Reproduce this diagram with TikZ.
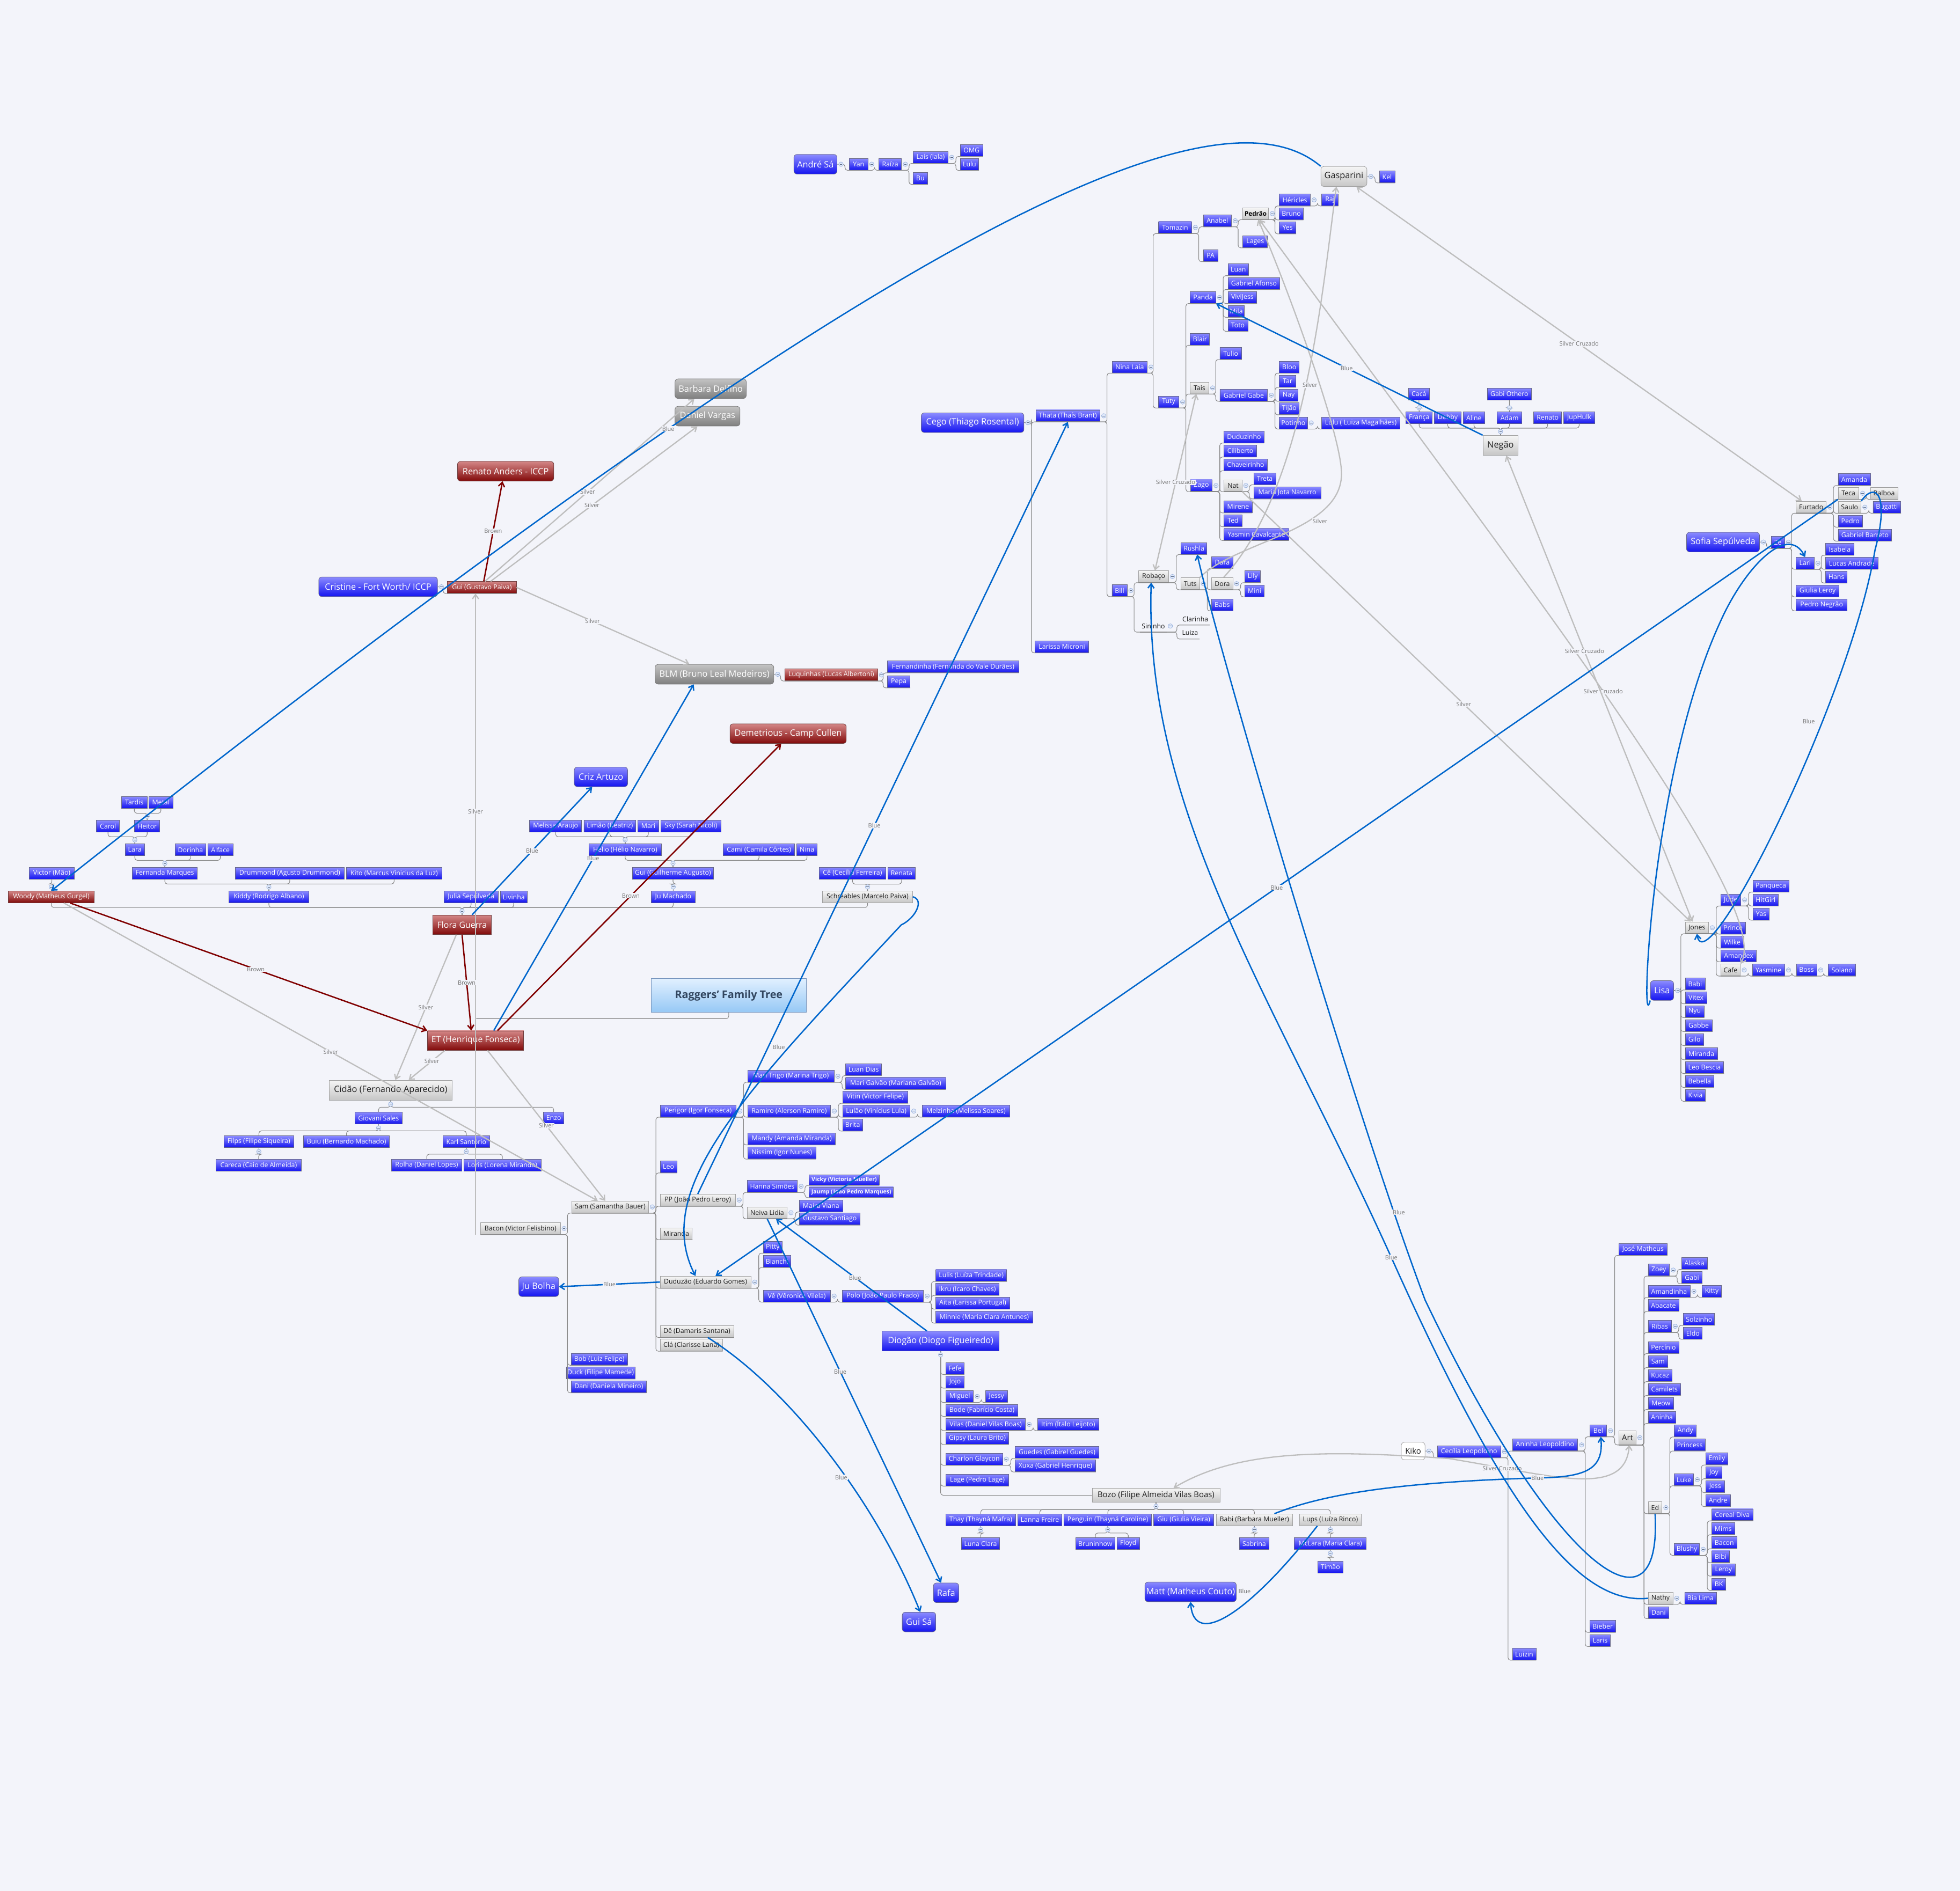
\documentclass[tikz,border=0pt]{standalone}
\usepackage{fontspec}
\setmainfont{Open Sans}
\usetikzlibrary{arrows.meta,calc}
\definecolor{bgc}{RGB}{243,244,250}
\definecolor{bTop}{RGB}{140,140,255}
\definecolor{bBot}{RGB}{20,20,240}
\definecolor{bBord}{RGB}{100,100,135}
\definecolor{gTop}{RGB}{246,246,246}
\definecolor{gBot}{RGB}{198,198,198}
\definecolor{gBord}{RGB}{160,160,160}
\definecolor{rTop}{RGB}{212,135,135}
\definecolor{rBot}{RGB}{130,10,10}
\definecolor{rBord}{RGB}{110,60,60}
\definecolor{dTop}{RGB}{195,195,195}
\definecolor{dBot}{RGB}{128,128,128}
\definecolor{dBord}{RGB}{120,120,120}
\definecolor{tTop}{RGB}{225,240,255}
\definecolor{tBot}{RGB}{150,200,245}
\definecolor{tBord}{RGB}{120,150,190}
\definecolor{tTxt}{RGB}{50,70,95}
\definecolor{txt}{RGB}{30,30,30}
\definecolor{treec}{RGB}{135,135,135}
\definecolor{blueL}{RGB}{0,102,204}
\definecolor{silverL}{RGB}{190,190,190}
\definecolor{brownL}{RGB}{128,0,0}
\definecolor{labc}{RGB}{115,115,115}
\definecolor{btnF}{RGB}{222,232,250}
\definecolor{btnD}{RGB}{150,175,220}
\tikzset{
  base/.style={rectangle, inner xsep=1pt, inner ysep=0pt, minimum height=9.4pt, font=\fontsize{5.3}{6}\selectfont, line width=0.35pt},
  bn/.style={base, top color=bTop, bottom color=bBot, draw=bBord, text=white},
  bnb/.style={bn, minimum height=8.4pt, font=\fontsize{4.5}{5}\selectfont\bfseries},
  gn/.style={base, top color=gTop, bottom color=gBot, draw=gBord, text=txt},
  gnb/.style={gn, font=\fontsize{5}{6}\selectfont\bfseries, text=black},
  rn/.style={base, top color=rTop, bottom color=rBot, draw=rBord, text=white},
  pn/.style={base, text=txt},
  bigfont/.style={font=\fontsize{7}{8}\selectfont},
  rootb/.style={bn, bigfont, rounded corners=2.5pt, minimum height=15.7pt},
  rootr/.style={rn, bigfont, rounded corners=2.5pt, minimum height=15.7pt},
  rootd/.style={base, bigfont, rounded corners=2.5pt, minimum height=15.7pt, top color=dTop, bottom color=dBot, draw=dBord, text=white},
  rootg/.style={gn, bigfont, rounded corners=2.5pt, minimum height=16pt},
  bigg/.style={gn, bigfont, minimum height=16pt},
  bigb/.style={bn, bigfont, minimum height=15.7pt},
  medr/.style={rn, font=\fontsize{6.8}{7.5}\selectfont, minimum height=15.5pt},
  medg/.style={gn, font=\fontsize{6.4}{7}\selectfont, minimum height=11.3pt},
  kk/.style={base, font=\fontsize{6.4}{7}\selectfont, rounded corners=2.5pt, minimum height=14pt, fill=white, draw=gBord, text=txt},
  ttl/.style={base, font=\fontsize{8.5}{9}\selectfont\bfseries, minimum height=27pt, top color=tTop, bottom color=tBot, draw=tBord, text=tTxt},
  tree/.style={draw=treec, line width=0.45pt, rounded corners=2pt},
  rel/.style={line width=1.1pt},
  bl/.style={rel, draw=blueL, -{Straight Barb[length=3.5pt,width=5pt]}},
  sv/.style={rel, line width=1pt, draw=silverL, -{Straight Barb[length=3.5pt,width=5pt]}},
  svd/.style={sv, {Straight Barb[length=3.5pt,width=5pt]}-{Straight Barb[length=3.5pt,width=5pt]}},
  brw/.style={rel, draw=brownL, -{Straight Barb[length=3.5pt,width=5pt]}},
  lab/.style={font=\fontsize{4.7}{5}\selectfont, text=labc, fill=bgc, inner sep=0.4pt},
  pics/btn/.style={code={\draw[fill=btnF,draw=btnD,line width=0.3pt] (0,0) circle[radius=1.8pt]; \draw[draw=btnD!60!black,line width=0.3pt] (-1pt,0) -- (1pt,0);}},
}
\newcommand\N[6]{\node[#1,minimum width={(#4-#3)*1pt}] (#2) at ({(#3+#4)/2},#5) {#6};}
\newcommand\T[3]{\coordinate (spn) at (#2,0);\foreach \kid in {#3}{\draw[tree] (#1.south west) -- (#1.south -| spn) |- (\kid.south east);}\pic at ([xshift=2.9pt]#1.east) {btn};}
\newcommand\TR[3]{\coordinate (spn) at (#2,0);\foreach \kid in {#3}{\draw[tree] (#1.east) -- (#1.east -| spn) |- (\kid.south east);}\pic at ([xshift=3pt]#1.east) {btn};}
\newcommand\U[3]{\coordinate (bar) at (0,#2);\foreach \kid in {#3}{\draw[tree] (\kid.south) -- (\kid.south |- bar) -| (#1.north);}\pic at ([yshift=3pt]#1.north) {btn};}
\newcommand\D[3]{\coordinate (bar) at (0,#2);\foreach \kid in {#3}{\draw[tree] (#1.south) -- (#1.south |- bar) -| (\kid.north);}\pic at ([yshift=-3pt]#1.south) {btn};}
\begin{document}
\begin{tikzpicture}[x=1pt,y=-1pt]
\useasboundingbox (0,0) rectangle (1568,1513);
\fill[bgc] (0,0) rectangle (1568,1513);
% ---------- André Sá
\N{rootb}{andre}{635.1}{669.6}{131.4}{André Sá}
\N{bn}{yan}{679.5}{694.3}{131.4}{Yan}
\N{bn}{raiza}{703.1}{721.2}{131.4}{Raíza}
\N{bn}{lais}{730.7}{758.3}{125.9}{Laís (lala)}
\N{bn}{omg}{768.2}{786.3}{120.3}{OMG}
\N{bn}{lulua}{768.2}{783}{131.5}{Lulu}
\N{bn}{bu}{730.7}{741.9}{142.7}{Bu}
% ---------- Gasparini
\N{rootg}{gasp}{1056.7}{1093.5}{141.2}{Gasparini}
\N{bn}{kel}{1103.4}{1115.9}{141.5}{Kel}
% ---------- Cego
\N{rootb}{cego}{737}{819.1}{338.2}{Cego (Thiago Rosental)}
\N{bn}{thata}{828.7}{879.9}{332.7}{Thata (Thaís Brant)}
\N{bn}{larissa}{828}{871}{517.5}{Larissa Microni}
\N{bn}{nina}{889.8}{917.7}{293.7}{Nina Laia}
\N{bn}{bill}{889.6}{901.6}{472.5}{Bill}
\N{bn}{tomazin}{926.9}{953.2}{182}{Tomazin}
\N{bn}{tuty}{926.9}{943}{321.6}{Tuty}
\N{bn}{anabel}{962.7}{985.1}{176.6}{Anabel}
\N{bn}{pa}{962.7}{974.2}{204.5}{PA}
\N{gnb}{pedrao}{994.3}{1014.7}{170.9}{Pedrão}
\N{bn}{lages}{994.3}{1014}{193.4}{Lages}
\N{bn}{hericles}{1023.5}{1048.2}{159.9}{Héricles}
\N{bn}{raj}{1057.4}{1070.5}{159.9}{Raj}
\N{bn}{bruno}{1023.5}{1042.6}{171.1}{Bruno}
\N{bn}{yes}{1023.5}{1036.7}{182.3}{Yes}
\N{bn}{panda}{952.2}{972.6}{238}{Panda}
\N{bn}{blair}{952.2}{967.7}{271.4}{Blair}
\N{gn}{tais}{952.2}{967}{310.4}{Tais}
\N{bn}{zago}{952.4}{969.7}{388.5}{Zago}
\N{bn}{luan}{982.4}{998.9}{215.7}{Luan}
\N{bn}{gabafonso}{982.4}{1023.9}{226.8}{Gabriel Afonso}
\N{bn}{vivijess}{982.4}{1005.4}{238}{ViviJess}
\N{bn}{mila}{982.4}{995.6}{249}{Mila}
\N{bn}{toto}{982.4}{998.2}{260.2}{Toto}
\N{bn}{tulio}{975.9}{993.3}{282.8}{Tulio}
\N{bn}{gabgabe}{975.9}{1014}{316.2}{Gabriel Gabe}
\N{bn}{bloo}{1023.5}{1039.3}{293.7}{Bloo}
\N{bn}{tar}{1023.5}{1036.7}{305.1}{Tar}
\N{bn}{nay}{1023.5}{1038.3}{316.2}{Nay}
\N{bn}{tijao}{1023.5}{1039.3}{327}{Tijão}
\N{bn}{potinho}{1023.5}{1045.9}{338.4}{Potinho}
\N{bn}{lulub}{1057.4}{1119.8}{338.4}{Lulu ( Luiza Magalhães)}
\N{bn}{duduzinho}{979.3}{1011.1}{349.6}{Duduzinho}
\N{bn}{ciliberto}{979.3}{1005.2}{360.8}{Ciliberto}
\N{bn}{chaveirinho}{979.3}{1013.8}{371.8}{Chaveirinho}
\N{gn}{nat}{979.3}{993.6}{388.5}{Nat}
\N{bn}{mirene}{979.3}{1001.7}{405.5}{Mirene}
\N{bn}{ted}{979.3}{993.6}{416.6}{Ted}
\N{bn}{yasmin}{979.3}{1031}{427.6}{Yasmin Cavalcante}
\N{bn}{treta}{1003}{1020.7}{383}{Treta}
\N{bn}{mjn}{1003}{1056.7}{394.3}{Maria Jota Navarro}
\N{gn}{robaco}{911}{934.9}{461.3}{Robaço}
\N{pn}{sininho}{912.2}{933.2}{500.9}{Sininho}
\N{bn}{rushla}{944.8}{965.5}{438.8}{Rushla}
\N{gn}{tuts}{944.8}{959.6}{467}{Tuts}
\N{bn}{dara}{969.4}{986.2}{450}{Dara}
\N{gn}{dora}{969.4}{986.2}{467}{Dora}
\N{bn}{babs}{969.4}{986.2}{483.9}{Babs}
\N{bn}{lily}{996}{1008.4}{461.3}{Lily}
\N{bn}{mini}{996}{1011.3}{472.7}{Mini}
\N{pn}{clarinha}{945.5}{967}{495.2}{Clarinha}
\N{pn}{luiza}{945.5}{958.6}{506.4}{Luiza}
% ---------- Negão
\N{bigg}{negao}{1186.3}{1214.5}{356.4}{Negão}
\N{bn}{franca}{1124.8}{1145.8}{334.2}{França}
\N{bn}{debby}{1147.5}{1168.8}{334.2}{Debby}
\N{bn}{aline}{1170.5}{1187.8}{334.2}{Aline}
\N{bn}{adam}{1197.8}{1217.4}{334.2}{Adam}
\N{bn}{renato}{1226.9}{1249.3}{334.2}{Renato}
\N{bn}{juphulk}{1251}{1275.7}{334.2}{JupHulk}
\N{bn}{caca}{1126.8}{1143.5}{315.2}{Cacá}
\N{bn}{gabiothero}{1189.8}{1225.1}{315.2}{Gabi Othero}
% ---------- Sofia
\N{rootb}{sofia}{1349.2}{1407.6}{433.7}{Sofia Sepúlveda}
\N{bn}{ze}{1416.9}{1427.6}{433.8}{Zé}
\N{gn}{furtado}{1436.9}{1460.9}{405.8}{Furtado}
\N{bn}{lari}{1436.9}{1451.2}{450.6}{Lari}
\N{bn}{giulia}{1436.9}{1471.2}{472.7}{Giulia Leroy}
\N{bn}{pedroneg}{1436.9}{1477.7}{483.9}{Pedro Negrão}
\N{bn}{amanda}{1470.5}{1496.3}{383.6}{Amanda}
\N{gn}{teca}{1470.5}{1487}{394.7}{Teca}
\N{gn}{saulo}{1470.5}{1488.8}{405.8}{Saulo}
\N{bn}{pedro}{1470.5}{1490.1}{416.9}{Pedro}
\N{bn}{gabbarreto}{1470.5}{1513.4}{428.1}{Gabriel Barreto}
\N{gn}{balboa}{1496.3}{1518.2}{394.7}{Balboa}
\N{bn}{bugatti}{1498.4}{1520.6}{405.8}{Bugatti}
\N{bn}{isabela}{1460.5}{1483}{439.4}{Isabela}
\N{bn}{lucas}{1460.5}{1502.3}{450.6}{Lucas Andrade}
\N{bn}{hans}{1460.5}{1477.7}{461.6}{Hans}
% ---------- Lisa
\N{rootb}{lisa}{1320.3}{1338.9}{792.5}{Lisa}
\N{gn}{jones}{1348.2}{1366.8}{742.3}{Jones}
\N{bn}{babia}{1348.2}{1364}{787.2}{Babi}
\N{bn}{vitex}{1348.2}{1365.4}{798.3}{Vitex}
\N{bn}{nyu}{1348.2}{1363.3}{809.3}{Nyu}
\N{bn}{gabbe}{1348.2}{1369.7}{820.5}{Gabbe}
\N{bn}{gilo}{1348.2}{1362.8}{831.7}{Gilo}
\N{bn}{mirandaa}{1348.2}{1374}{843}{Miranda}
\N{bn}{leoa}{1348.2}{1379}{854.1}{Leo Bescia}
\N{bn}{bebella}{1348.2}{1371.1}{865.2}{Bebella}
\N{bn}{kivia}{1348.2}{1364.4}{876.3}{Kivia}
\N{bn}{jude}{1376.6}{1392.6}{720}{Jude}
\N{bn}{prince}{1376.6}{1396.2}{742.5}{Prince}
\N{bn}{wilke}{1376.6}{1395}{753.7}{Wilke}
\N{bn}{amandex}{1376.6}{1405.2}{764.7}{Amandex}
\N{gn}{cafe}{1376.6}{1392.3}{776.1}{Cafe}
\N{bn}{panqueca}{1402.3}{1431}{708.9}{Panqueca}
\N{bn}{hitgirl}{1402.3}{1422.7}{720}{HitGirl}
\N{bn}{yas}{1402.3}{1415.5}{731.4}{Yas}
\N{bn}{yasmine}{1401.9}{1427.7}{776.1}{Yasmine}
\N{bn}{boss}{1437}{1453.4}{776.1}{Boss}
\N{bn}{solano}{1462.7}{1484.6}{776.1}{Solano}
% ---------- left family
\N{bn}{tardis}{97.2}{117.7}{642}{Tardis}
\N{bn}{metal}{119.1}{138.3}{642}{Metal}
\N{bn}{carol}{77.2}{95.6}{661}{Carol}
\N{bn}{heitor}{107.6}{127.9}{661}{Heitor}
\N{bn}{lara}{100.2}{115.5}{679.9}{Lara}
\N{bn}{dorinha}{140.2}{164.6}{679.9}{Dorinha}
\N{bn}{alface}{166.2}{186.5}{679.9}{Alface}
\N{bn}{victor}{23.5}{59.4}{698.7}{Victor (Mão)}
\N{bn}{fernanda}{106}{157.7}{698.7}{Fernanda Marques}
\N{bn}{drummond}{188.4}{275.2}{698.7}{Drummond (Agusto Drummond)}
\N{bn}{kito}{277.1}{353.5}{698.7}{Kito (Marcus Vinicius da Luz)}
\N{rn}{woody}{6.8}{75.3}{717.6}{Woody (Matheus Gurgel)}
\N{bn}{kiddy}{183.2}{247}{717.6}{Kiddy (Rodrigo Albano)}
\N{bn}{julia}{355.1}{398.6}{717.6}{Julia Sepúlveda}
\N{bn}{livinha}{400.3}{421.7}{717.6}{Livinha}
\N{medr}{flora}{346.4}{392.9}{739.9}{Flora Guerra}
\N{bn}{melissa}{423.7}{465.3}{660.9}{Melissa Araujo}
\N{bn}{limao}{467.1}{508.7}{660.9}{Limão (Beatriz)}
\N{bn}{mari}{510.2}{527.1}{660.9}{Mari}
\N{bn}{sky}{528.8}{576.6}{660.9}{Sky (Sarah Nicoli)}
\N{bn}{helio}{471.2}{529.1}{679.8}{Hélio (Hélio Navarro)}
\N{bn}{cami}{578.6}{635.8}{679.8}{Cami (Camila Côrtes)}
\N{bn}{ninab}{637.5}{653.7}{679.8}{Nina}
\N{bn}{guib}{506.1}{570.7}{698.6}{Gui (Guilherme Augusto)}
\N{bn}{ce}{655.5}{708.5}{698.6}{Cê (Cecília Ferreira)}
\N{bn}{renata}{710.3}{732.2}{698.6}{Renata}
\N{bn}{jumachado}{521}{556.2}{717.5}{Ju Machado}
\N{gn}{schreables}{658.1}{730}{717.5}{Schreables (Marcelo Paiva)}
% ---------- centre
\N{rootb}{cristine}{255}{350}{469.5}{Cristine - Fort Worth/ ICCP}
\N{rn}{gui}{358}{413}{470}{Gui (Gustavo Paiva)}
\N{rootr}{renatoA}{366}{443}{377}{Renato Anders - ICCP}
\N{rootd}{barbara}{540}{597}{311}{Barbara Delfino}
\N{rootd}{daniel}{540}{592}{333}{Daniel Vargas}
\N{rootd}{blm}{524}{619}{539.5}{BLM (Bruno Leal Medeiros)}
\N{rn}{luquinhas}{628}{702}{540}{Luquinhas (Lucas Albertoni)}
\N{bn}{fernandinha}{710}{815}{533.5}{Fernandinha (Fernanda do Vale Durães)}
\N{bn}{pepa}{710}{728}{545.5}{Pepa}
\N{rootr}{demetrious}{584}{677}{587}{Demetrious - Camp Cullen}
\N{rootb}{criz}{459.4}{502.1}{621.6}{Criz Artuzo}
\N{medr}{et}{342}{419}{832.5}{ET (Henrique Fonseca)}
\N{ttl}{title}{521}{645}{796.5}{Raggers' Family Tree}
\N{rootb}{jubolha}{415}{447}{1029.5}{Ju Bolha}
% ---------- Cidão
\N{bigg}{cidao}{263.3}{361.7}{872.3}{Cidão (Fernando Aparecido)}
\N{bn}{giovani}{284}{321.7}{894.6}{Giovani Sales}
\N{bn}{enzo}{434.7}{451.2}{894.6}{Enzo}
\N{bn}{filps}{179.2}{235}{913.5}{Filps (Filipe Siqueira)}
\N{bn}{buiu}{242.8}{311.6}{913.5}{Buiu (Bernardo Machado)}
\N{bn}{karl}{354.4}{391.6}{913.5}{Karl Santório}
\N{bn}{careca}{172.9}{240.9}{932.4}{Careca (Caio de Almeida)}
\N{bn}{rolha}{313.2}{369.5}{932.4}{Rolha (Daniel Lopes)}
\N{bn}{loris}{371.1}{432.8}{932.4}{Loris (Lorena Miranda)}
% ---------- Bacon / Sam
\N{gn}{bacon}{384.6}{448.2}{982.9}{Bacon (Victor Felisbino)}
\N{gn}{sam}{457.6}{518.8}{965.7}{Sam (Samantha Bauer)}
\N{bn}{bob}{457}{502}{1087.5}{Bob (Luiz Felipe)}
\N{bn}{duck}{457}{504}{1098.5}{Duck (Filipe Mamede)}
\N{bn}{danim}{457}{517}{1109.5}{Dani (Daniela Mineiro)}
\N{bn}{perigor}{528.1}{588.9}{889}{Perigor (Igor Fonseca)}
\N{bn}{leob}{528.1}{541.5}{933.6}{Leo}
\N{gn}{pp}{528.1}{588.3}{960.2}{PP (João Pedro Leroy)}
\N{gn}{mirandab}{528.1}{553.8}{987.1}{Miranda}
\N{gn}{duduzao}{528.1}{600.7}{1025.8}{Duduzão (Eduardo Gomes)}
\N{gn}{de}{528.1}{586.9}{1065.3}{Dê (Damaris Santana)}
\N{gn}{cla}{528.1}{578}{1076.3}{Clá (Clarisse Lana)}
\N{bn}{maritrigo}{598.3}{667.2}{861.1}{Mari Trigo (Marina Trigo)}
\N{bn}{ramiro}{598.3}{664.4}{889}{Ramiro (Alerson Ramiro)}
\N{bn}{mandy}{598.3}{668.4}{911.2}{Mandy (Amanda Miranda)}
\N{bn}{nissim}{598.3}{652.6}{922.6}{Nissim (Igor Nunes)}
\N{bn}{luandias}{676.6}{705.2}{855.7}{Luan Dias}
\N{bn}{marigalvao}{676.6}{756.5}{866.8}{Mari Galvão (Mariana Galvão)}
\N{bn}{vitin}{674.1}{726.3}{877.9}{Vitin (Victor Felipe)}
\N{bn}{lulao}{674.1}{727.9}{889}{Lulão (Vinícius Lula)}
\N{bn}{brita}{674.1}{690.1}{900.1}{Brita}
\N{bn}{melzinha}{737.8}{807.8}{889}{Melzinha (Melissa Soares)}
\N{bn}{hanna}{597.8}{637.8}{949.2}{Hanna Simões}
\N{gn}{neiva}{597.8}{629.7}{970.3}{Neiva Lidia}
\N{bnb}{vicky}{647.4}{703.3}{944.1}{Vicky (Victoria Mueller)}
\N{bnb}{jaump}{647.4}{714.7}{953.9}{Jaump (João Pedro Marques)}
\N{bn}{maira}{639.6}{674.1}{964.8}{Maíra Viana}
\N{bn}{gustavo}{639.6}{688.1}{975.4}{Gustavo Santiago}
\N{bn}{pitty}{610.6}{625.8}{997.8}{Pitty}
\N{bn}{bianchi}{610.6}{632.7}{1009.3}{Bianchi}
\N{bn}{ve}{610.6}{664.2}{1037}{Vê (Vêronica Vilela)}
\N{bn}{polo}{673.7}{738.7}{1037}{Polo (João Paulo Prado)}
\N{bn}{lulis}{748.6}{805.4}{1020.5}{Lulis (Luíza Trindade)}
\N{bn}{ikru}{748.6}{799.3}{1031.6}{Ikru (Icaro Chaves)}
\N{bn}{aita}{748.6}{807.8}{1042.6}{Aita (Larissa Portugal)}
\N{bn}{minnie}{748.6}{826.1}{1053.8}{Minnie (Maria Clara Antunes)}
% ---------- Diogão
\N{bigb}{diogao}{705.6}{799.4}{1073}{Diogão (Diogo Figueiredo)}
\N{bn}{fefe}{756.8}{771.3}{1094.9}{Fefe}
\N{bn}{jojo}{756.8}{771.3}{1105.8}{Jojo}
\N{bn}{miguel}{756.8}{778.7}{1117.3}{Miguel}
\N{bn}{jessy}{788.3}{806.1}{1117.3}{Jessy}
\N{bn}{bode}{756.8}{814.3}{1128.4}{Bode (Fabrício Costa)}
\N{bn}{vilas}{756.8}{820.3}{1139.7}{Vilas (Daniel Vilas Boas)}
\N{bn}{itim}{829.9}{879.2}{1139.7}{Itim (Ítalo Leijoto)}
\N{bn}{gipsy}{756.8}{806.9}{1150.9}{Gipsy (Laura Brito)}
\N{bn}{charlon}{756.8}{802}{1167.5}{Charlon Glaycon}
\N{bn}{guedes}{812.1}{879.2}{1162}{Guedes (Gabirel Guedes)}
\N{bn}{xuxa}{812.1}{876.5}{1172.9}{Xuxa (Gabriel Henrique)}
\N{bn}{lage}{756.8}{806.9}{1184.2}{Lage (Pedro Lage)}
\N{medg}{bozo}{873.7}{975.9}{1196.4}{Bozo (Filipe Almeida Vilas Boas)}
\N{bn}{thay}{756.8}{812.4}{1216}{Thay (Thayná Mafra)}
\N{bn}{lanna}{814.3}{849.4}{1216}{Lanna Freire}
\N{bn}{penguin}{851.3}{921.1}{1216}{Penguin (Thayná Caroline)}
\N{bn}{giu}{923}{970.9}{1216}{Giu (Giulia Vieira)}
\N{gn}{babib}{973.1}{1033.9}{1216}{Babi (Barbara Mueller)}
\N{gn}{lups}{1039.7}{1088.9}{1216}{Lups (Luíza Rinco)}
\N{bn}{lunaclara}{769.1}{799.8}{1235}{Luna Clara}
\N{bn}{bruninhow}{860.6}{891.8}{1235}{Bruninhow}
\N{bn}{floyd}{893.7}{911.5}{1235}{Floyd}
\N{bn}{sabrina}{991.7}{1015}{1235}{Sabrina}
\N{bn}{mclara}{1035.5}{1093}{1235}{McLara (Maria Clara)}
\N{bn}{timao}{1054.4}{1074.2}{1253.7}{Timão}
\N{rootb}{matt}{917.5}{987.4}{1273.7}{Matt (Matheus Couto)}
\N{rootb}{rafa}{746.7}{767}{1274.4}{Rafa}
\N{rootb}{guisa}{721.8}{748.6}{1297.8}{Gui Sá}
% ---------- Kiko
\N{kk}{kiko}{1121}{1140}{1161}{Kiko}
\N{bn}{cecilia}{1150}{1200.5}{1161.5}{Cecília Leopoldino}
\N{bn}{aninhaleo}{1209.9}{1262.2}{1156.1}{Aninha Leopoldino}
\N{bn}{luizin}{1209.9}{1228.8}{1323.5}{Luizin}
\N{bn}{bel}{1271.9}{1285.3}{1144.7}{Bel}
\N{bn}{bieber}{1271.9}{1292.4}{1301.2}{Bieber}
\N{bn}{laris}{1271.9}{1288.4}{1312.5}{Laris}
\N{bn}{josem}{1295}{1333.8}{999.6}{José Matheus}
\N{medg}{art}{1295.2}{1308.8}{1150.3}{Art}
\N{bn}{zoey}{1318.5}{1335.5}{1016.2}{Zoey}
\N{bn}{amandinha}{1318.5}{1352}{1033.2}{Amandinha}
\N{bn}{abacate}{1318.5}{1343}{1044.4}{Abacate}
\N{bn}{ribas}{1318.5}{1337.1}{1061.2}{Ribas}
\N{bn}{percinio}{1318.5}{1343}{1078.1}{Percínio}
\N{bn}{samb}{1318.5}{1334.3}{1089.3}{Sam}
\N{bn}{kucaz}{1318.5}{1337.6}{1100.5}{Kucaz}
\N{bn}{camilets}{1318.5}{1344.6}{1111.6}{Camilets}
\N{bn}{meow}{1318.5}{1339}{1122.8}{Meow}
\N{bn}{aninha}{1318.5}{1340.6}{1134}{Aninha}
\N{gn}{ed}{1318.5}{1329.6}{1206.3}{Ed}
\N{gn}{nathy}{1318.5}{1338.3}{1278.8}{Nathy}
\N{bn}{danib}{1318.5}{1335.2}{1290.2}{Dani}
\N{bn}{alaska}{1345.3}{1365.8}{1010.8}{Alaska}
\N{bn}{gabi}{1345.3}{1361.8}{1022.2}{Gabi}
\N{bn}{kitty}{1361.8}{1377.1}{1033.2}{Kitty}
\N{bn}{solzinho}{1346.8}{1371.7}{1055.5}{Solzinho}
\N{bn}{eldo}{1346.8}{1361.8}{1066.7}{Eldo}
\N{bn}{andy}{1339.5}{1357.1}{1144.9}{Andy}
\N{bn}{princess}{1339.5}{1364.2}{1156.1}{Princess}
\N{bn}{luke}{1339.5}{1354.8}{1183.9}{Luke}
\N{bn}{blushy}{1339.5}{1359.5}{1239.6}{Blushy}
\N{bn}{emily}{1364.7}{1382.3}{1167.3}{Emily}
\N{bn}{joy}{1364.7}{1377.6}{1178.3}{Joy}
\N{bn}{jess}{1364.7}{1379.5}{1189.4}{Jess}
\N{bn}{andre2}{1364.7}{1384.2}{1200.6}{Andre}
\N{bn}{cerealdiva}{1369.4}{1402.3}{1212}{Cereal Diva}
\N{bn}{mims}{1369.4}{1387.7}{1223.1}{Mims}
\N{bn}{baconb}{1369.4}{1389.4}{1234.3}{Bacon}
\N{bn}{bibi}{1369.4}{1383.7}{1245.5}{Bibi}
\N{bn}{leroy}{1369.4}{1388.2}{1256.2}{Leroy}
\N{bn}{bk}{1369.4}{1380.7}{1267.6}{BK}
\N{bn}{bialima}{1347.7}{1373.1}{1278.8}{Bia Lima}
% ================= tree connectors
\TR{andre}{676}{yan}
\T{yan}{699.6}{raiza}
\T{raiza}{727.2}{lais,bu}
\T{lais}{764.7}{omg,lulua}
\TR{gasp}{1100}{kel}
\TR{cego}{825.2}{thata,larissa}
\T{thata}{885.6}{nina,bill}
\T{nina}{922.5}{tomazin,tuty}
\T{tomazin}{959}{anabel,pa}
\T{anabel}{990.5}{pedrao,lages}
\T{pedrao}{1020}{hericles,bruno,yes}
\T{hericles}{1054}{raj}
\T{tuty}{948.7}{panda,blair,tais,zago}
\T{panda}{978.5}{luan,gabafonso,vivijess,mila,toto}
\T{tais}{972.5}{tulio,gabgabe}
\T{gabgabe}{1020}{bloo,tar,nay,tijao,potinho}
\T{potinho}{1054}{lulub}
\T{zago}{975.8}{duduzinho,ciliberto,chaveirinho,nat,mirene,ted,yasmin}
\T{nat}{999.5}{treta,mjn}
\T{bill}{907.3}{robaco,sininho}
\T{robaco}{941}{rushla,tuts}
\T{tuts}{965.8}{dara,dora,babs}
\T{dora}{992.5}{lily,mini}
\T{sininho}{941.5}{clarinha,luiza}
\U{negao}{342.5}{franca,debby,aline,adam,renato,juphulk}
\U{franca}{326.3}{caca}
\U{adam}{326.3}{gabiothero}
\TR{sofia}{1413.3}{ze}
\T{ze}{1433.3}{furtado,lari,giulia,pedroneg}
\T{furtado}{1466.7}{amanda,teca,saulo,pedro,gabbarreto}
\T{teca}{1493}{balboa}
\T{saulo}{1495}{bugatti}
\T{lari}{1456.9}{isabela,lucas,hans}
\TR{lisa}{1344.7}{jones,babia,vitex,nyu,gabbe,gilo,mirandaa,leoa,bebella,kivia}
\T{jones}{1373}{jude,prince,wilke,amandex,cafe}
\T{jude}{1398.8}{panqueca,hitgirl,yas}
\T{cafe}{1398.5}{yasmine}
\T{yasmine}{1433.5}{boss}
\T{boss}{1459}{solano}
\U{heitor}{650.7}{tardis,metal}
\U{lara}{669.5}{carol,heitor}
\U{fernanda}{688.4}{lara,dorinha,alface}
\U{woody}{707.3}{victor}
\U{kiddy}{707.3}{fernanda,drummond,kito}
\U{helio}{669.5}{melissa,limao,mari,sky}
\U{guib}{688.4}{helio,cami,ninab}
\U{jumachado}{707.3}{guib}
\U{schreables}{707.4}{ce,renata}
\U{flora}{726.1}{woody,kiddy,julia,livinha,jumachado,schreables}
\TR{cristine}{354.5}{gui}
\TR{blm}{624.5}{luquinhas}
\T{luquinhas}{706.5}{fernandinha,pepa}
\D{cidao}{885.9}{giovani,enzo}
\D{giovani}{904.8}{filps,buiu,karl}
\D{filps}{923.5}{careca}
\D{karl}{923.5}{rolha,loris}
\T{bacon}{454}{sam,bob,duck,danim}
\T{sam}{524.7}{perigor,leob,pp,mirandab,duduzao,de,cla}
\T{perigor}{594.8}{maritrigo,ramiro,mandy,nissim}
\T{maritrigo}{673.7}{luandias,marigalvao}
\T{ramiro}{670.7}{vitin,lulao,brita}
\T{lulao}{734}{melzinha}
\T{pp}{594.4}{hanna,neiva}
\T{hanna}{644}{vicky,jaump}
\T{neiva}{636.3}{maira,gustavo}
\T{duduzao}{607}{pitty,bianchi,ve}
\T{ve}{670}{polo}
\T{polo}{745.1}{lulis,ikru,aita,minnie}
\foreach \kid in {fefe,jojo,miguel,bode,vilas,gipsy,charlon,lage}{\draw[tree] (diogao.south) |- (\kid.south east);}
\draw[tree] (diogao.south) |- (bozo.west);
\pic at ([yshift=-3pt]diogao.south) {btn};
\T{miguel}{785}{jessy}
\T{vilas}{826.5}{itim}
\T{charlon}{808.6}{guedes,xuxa}
\D{bozo}{1207.8}{thay,lanna,penguin,giu,babib,lups}
\D{thay}{1226.6}{lunaclara}
\D{penguin}{1226.6}{bruninhow,floyd}
\D{babib}{1226.6}{sabrina}
\D{lups}{1226.6}{mclara}
\D{mclara}{1246}{timao}
\TR{kiko}{1146.5}{cecilia}
\T{cecilia}{1206.4}{aninhaleo,luizin}
\T{aninhaleo}{1268.1}{bel,bieber,laris}
\T{bel}{1291.7}{josem,art}
\T{art}{1315.2}{zoey,amandinha,abacate,ribas,percinio,samb,kucaz,camilets,meow,aninha,ed,nathy,danib}
\T{zoey}{1341.8}{alaska,gabi}
\T{amandinha}{1358}{kitty}
\T{ribas}{1343}{solzinho,eldo}
\T{ed}{1335.9}{andy,princess,luke,blushy}
\T{luke}{1361.1}{emily,joy,jess,andre2}
\T{blushy}{1365.8}{cerealdiva,mims,baconb,bibi,leroy,bk}
\T{nathy}{1344}{bialima}
% central topic connector
\coordinate (tj) at (381,815);
\draw[tree] (title.south) |- (tj);
% ================= relationships: silver
\draw[sv] ([xshift=2.5pt]gui.north) -- ([xshift=-13pt]barbara.south) node[lab,pos=.49]{Silver};
\draw[sv] ([xshift=7pt]gui.north) -- ([xshift=-8pt]daniel.south) node[lab,pos=.49]{Silver};
\draw[sv] (gui.east) -- ([xshift=-20pt]blm.north) node[lab,pos=.44]{Silver};
\draw[sv] ([xshift=-4pt]bacon.south west) -- ([xshift=-4pt]bacon.south west |- gui.south) node[lab,pos=.66]{Silver};
\draw[sv] ([xshift=10pt]woody.south) -- ([xshift=-10pt]sam.north) node[lab,pos=.5]{Silver};
\draw[sv] ([xshift=-4.6pt]flora.south) -- ([xshift=3.8pt]cidao.north) node[lab,pos=.5]{Silver};
\draw[sv] ([xshift=-24.5pt]et.south) -- ([xshift=14.4pt]cidao.north) node[lab,pos=.36]{Silver};
\draw[sv] ([xshift=9.5pt]et.south) -- ([xshift=-4pt]sam.north) node[lab,pos=.5]{Silver};
\draw[sv] ([xshift=1pt]dora.north) .. controls (1045,390) and (1058,230) .. ([xshift=-6pt]gasp.south);
\node[lab] at (1048,308) {Silver};
\draw[sv] (tuts.north east) .. controls (990,432) and (1078,425) .. (1073,375) .. controls (1070,340) and (1030,230) .. ([xshift=2pt]pedrao.south);
\node[lab] at (1056,417) {Silver};
\draw[svd] ([xshift=3pt]pedrao.south) .. controls (1200,440) and (1420,720) .. (cafe.north east) node[lab,pos=.5]{Silver Cruzado};
\draw[svd] ([xshift=4.6pt]negao.south) -- ([xshift=-3.5pt]jones.north) node[lab,pos=.42]{Silver Cruzado};
\draw[sv] (nat.south east) -- ([xshift=-5pt]jones.north) node[lab,pos=.494]{Silver};
\draw[svd] ([xshift=10pt]gasp.south) -- ([xshift=-7.5pt]furtado.north) node[lab,pos=.5]{Silver Cruzado};
\draw[svd] ([xshift=-2.6pt]tais.south) -- ([xshift=1pt]robaco.north) node[lab,pos=.5]{Silver Cruzado};
\draw[svd] ([xshift=14pt]bozo.north) .. controls (990,1160) and (1060,1160) .. (1159,1167) .. controls (1240,1180) and (1300,1200) .. ([xshift=1.4pt]art.south);
\node[lab] at (1201.7,1174.8) {Silver Cruzado};
% ================= relationships: brown
\draw[brw] ([xshift=1.5pt]gui.north) -- ([xshift=-2.5pt]renatoA.south) node[lab,pos=.5]{Brown};
\draw[brw] ([xshift=15pt]woody.south) -- (et.north west) node[lab,pos=.52]{Brown};
\draw[brw] (flora.south) -- ([xshift=-3.5pt]et.north) node[lab,pos=.5]{Brown};
\draw[brw] ([xshift=17.5pt]et.north) -- ([xshift=-5.5pt]demetrious.south) node[lab,pos=.47]{Brown};
% ================= relationships: blue
\draw[bl] (gasp.north west) .. controls (970,60) and (700,190) .. (woody.north) node[lab,pos=.7]{Blue};
\draw[bl] (negao.north west) -- (panda.south east) node[lab,pos=.51]{Blue};
\draw[bl] (lisa.south west) .. controls (1312,835) and (1320,620) .. (1376,498) .. controls (1395,455) and (1430,418) .. (lari.north);
\draw[bl] (saulo.north east) .. controls (1500,385) and (1512,395) .. (1500,440) .. controls (1480,560) and (1365,790) .. (jones.south);
\node[lab] at (1447,577) {Blue};
\draw[bl] (teca.south west) -- ([xshift=8pt]duduzao.north) node[lab,pos=.5]{Blue};
\draw[bl] (pp.north) -- (thata.south) node[lab,pos=.477]{Blue};
\draw[bl] (schreables.east) .. controls (740,720) and (732,735) .. (721,740) .. controls (600,870) and (520,950) .. ([xshift=-8pt]duduzao.north);
\node[lab] at (623,838) {Blue};
\draw[bl] (neiva.south) -- ([xshift=-4pt]rafa.north) node[lab,pos=.42]{Blue};
\draw[bl] ([xshift=-11pt]diogao.north) -- ([xshift=7pt]neiva.south) node[lab,pos=.476]{Blue};
\draw[bl] ([xshift=8.7pt]de.south) .. controls (630,1110) and (700,1200) .. ([xshift=1pt]guisa.north);
\node[lab] at (673,1182) {Blue};
\draw[bl] (duduzao.west) -- (jubolha.east) node[lab,pos=.5]{Blue};
\draw[bl] ([xshift=8pt]flora.north) -- ([xshift=-7pt]criz.south) node[lab,pos=.5]{Blue};
\draw[bl] ([xshift=14.5pt]et.north) -- ([xshift=-16.5pt]blm.south) node[lab,pos=.497]{Blue};
\draw[bl] (nathy.west) .. controls (1260,1285) and (1200,1200) .. (1113,1006) .. controls (1020,800) and (915,650) .. ([xshift=-2pt]robaco.south);
\node[lab] at (1113,1006) {Blue};
\draw[bl] (ed.south) .. controls (1330,1320) and (1240,1250) .. (1140,1040) .. controls (1080,880) and (975,520) .. ([xshift=2.6pt]rushla.south);
\node[lab] at (1119,970) {Blue};
\draw[bl] ([xshift=16pt]babib.north) .. controls (1060,1195) and (1120,1186) .. (1230,1182.5) .. controls (1270,1182) and (1283,1175) .. ([xshift=2pt]bel.south);
\node[lab] at (1230,1182.5) {Blue};
\draw[bl] ([xshift=-10.4pt]lups.south) .. controls (1000,1290) and (955,1320) .. (matt.south);
\node[lab] at (995.6,1273.2) {Blue};
\end{tikzpicture}
\end{document}
